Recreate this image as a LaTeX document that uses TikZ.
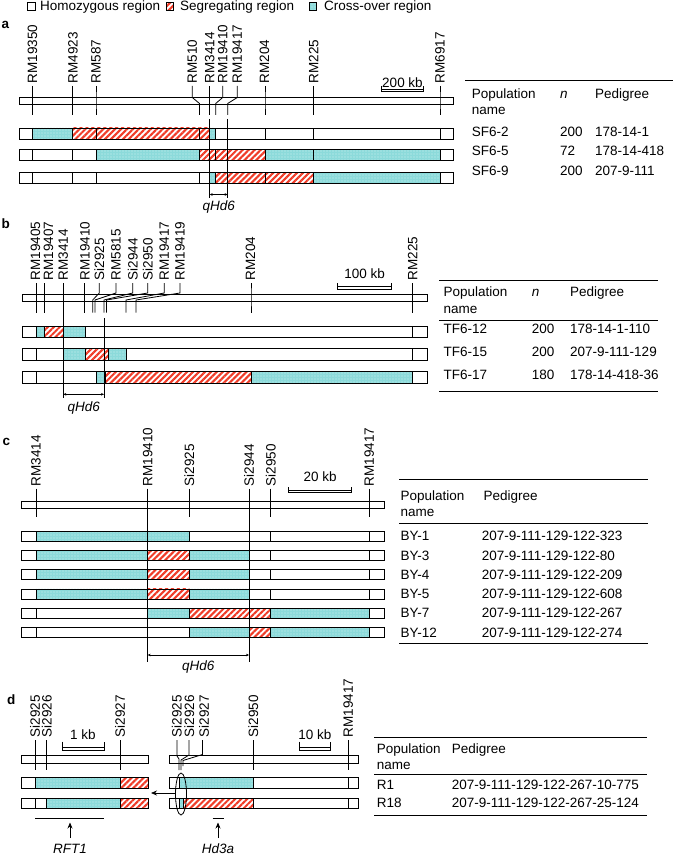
\documentclass[tikz,border=0pt]{standalone}
\usepackage{fontspec}
\setmainfont{Liberation Sans}
\usetikzlibrary{patterns.meta,arrows.meta}
\definecolor{cyanc}{RGB}{140,218,218}
\definecolor{redc}{RGB}{240,60,40}
\tikzset{
 segline/.style={draw=black,line width=0.8pt},
 cyfill/.style={preaction={fill=cyanc},pattern={Dots[distance=3pt,radius=0.6pt]},pattern color=white!60!cyanc},
 rdfill/.style={preaction={fill=white},pattern={Lines[angle=45,distance=4.2pt,line width=2.1pt]},pattern color=redc},
 tk/.style={line width=0.8pt},
 mk/.style={rotate=90,anchor=west,inner sep=0pt},
 tx/.style={anchor=base west,inner sep=0pt},
 ctx/.style={anchor=base,inner sep=0pt},
 rulel/.style={line width=0.9pt},
 qarr/.style={line width=0.4pt,{Stealth[length=3pt,width=2.6pt]}-{Stealth[length=3pt,width=2.6pt]}},
 plab/.style={anchor=base west,inner sep=0pt,font=\fontsize{13.5}{16}\selectfont\bfseries},
}
\newcommand\segW[4]{\draw[segline,fill=white] (#1,#3) rectangle (#2,#3+#4);}
\newcommand\segC[4]{\draw[segline,cyfill] (#1,#3) rectangle (#2,#3+#4);}
\newcommand\segR[4]{\draw[segline,rdfill] (#1,#3) rectangle (#2,#3+#4);}
\newcommand\rowbar[3]{\foreach \xa/\xb/\tp in {#3}{\csname seg\tp\endcsname{\xa}{\xb}{#1}{#2}}}
\newcommand\btick[6]{\draw[tk] (#1,#3) -- (#1,#4) -- (#2,#5) -- (#2,#6);}
\newcommand\sbar[4]{\draw[tk] (#1,#3) -- (#1,#4) -- (#2,#4) -- (#2,#3); \draw[tk] (#1,#4-2.5) -- (#2,#4-2.5);}
\begin{document}
\begin{tikzpicture}[x=1pt,y=-1pt,font=\fontsize{13.5}{16}\selectfont]
\useasboundingbox (0,0) rectangle (675,856);
% legend
\draw[segline,fill=white] (27.5,2.5) rectangle (35,10.5);
\node[tx] (lg1) at (40,10.8) {Homozygous region};
\draw[segline,rdfill] (166,2.5) rectangle (173.5,10.5);
\node[tx] (lg2) at (180,10.8) {Segregating region};
\draw[segline,cyfill] (309,2.5) rectangle (316.5,10.5);
\node[tx] (lg3) at (324,10.8) {Cross-over region};

% ================= panel a
\node[plab] (la) at (1.5,28.5) {a};
\draw[segline,fill=white] (19,97) rectangle (453,104.5);
\node[mk] (a1) at (32.5,83.5) {RM19350};
\node[mk] (a2) at (73,83.5) {RM4923};
\node[mk] (a3) at (96,83.5) {RM587};
\node[mk] (a4) at (192.3,83.5) {RM510};
\node[mk] (a5) at (209.7,83.5) {RM3414};
\node[mk] (a6) at (222.7,83.5) {RM19410};
\node[mk] (a7) at (237.3,83.5) {RM19417};
\node[mk] (a8) at (264.5,83.5) {RM204};
\node[mk] (a9) at (313.7,83.5) {RM225};
\node[mk] (a10) at (440,83.5) {RM6917};
\btick{32.7}{32.7}{86}{97.5}{103.5}{115}
\btick{72.7}{72.7}{86}{97.5}{103.5}{115}
\btick{96}{96}{86}{97.5}{103.5}{115}
\btick{192.3}{199.5}{86}{97.5}{103.5}{115}
\btick{209.7}{209.7}{86}{97.5}{103.5}{115}
\btick{222.7}{215.7}{86}{97.5}{103.5}{115}
\btick{237.3}{227.7}{86}{97.5}{103.5}{115}
\btick{265}{265}{86}{97.5}{103.5}{115}
\btick{313.7}{313.7}{86}{97.5}{103.5}{115}
\btick{440}{440}{86}{97.5}{103.5}{115}
\sbar{381.7}{423.3}{86}{91.5}
\node[ctx] (as) at (402.5,88) {200 kb};
\rowbar{128}{11}{19/32.7/W,32.7/72.7/C,72.7/96/R,96/199.5/R,199.5/209.7/R,209.7/215.7/C,215.7/265/W,265/313.7/W,313.7/440/W,440/453/W}
\rowbar{149.5}{11}{19/32.7/W,32.7/72.7/W,72.7/96/W,96/199.5/C,199.5/215.7/R,215.7/265/R,265/313.7/C,313.7/440/C,440/453/W}
\rowbar{172}{11}{19/32.7/W,32.7/72.7/W,72.7/96/W,96/199.5/W,199.5/209.7/W,209.7/215.7/C,215.7/265/R,265/313.7/R,313.7/440/C,440/453/W}
\draw[tk] (209.7,119) -- (209.7,198);
\draw[tk] (227.7,119) -- (227.7,198);
\draw[qarr] (209.7,194.5) -- (227.7,194.5);
\node[ctx] (aq) at (218.7,210.5) {\itshape qHd6};
% table a
\draw[rulel] (465,80) -- (673,80);
\node[tx] (ah1) at (471.7,98.3) {Population};
\node[tx] (ah2) at (471.7,114.3) {name};
\node[tx] (ah3) at (560,98.3) {\itshape n};
\node[tx] (ah4) at (595,98.3) {Pedigree};
\node[tx] (ar1a) at (471.7,136) {SF6-2};
\node[tx] (ar1b) at (560,136) {200};
\node[tx] (ar1c) at (595,136) {178-14-1};
\node[tx] (ar2a) at (471.7,155.5) {SF6-5};
\node[tx] (ar2b) at (560,155.5) {72};
\node[tx] (ar2c) at (595,155.5) {178-14-418};
\node[tx] (ar3a) at (471.7,175.3) {SF6-9};
\node[tx] (ar3b) at (560,175.3) {200};
\node[tx] (ar3c) at (595,175.3) {207-9-111};

% ================= panel b
\node[plab] (lb) at (1.5,228.5) {b};
\draw[segline,fill=white] (22.7,294) rectangle (427.3,301.7);
\node[mk] (b1) at (35.5,280.5) {RM19405};
\node[mk] (b2) at (48.5,280.5) {RM19407};
\node[mk] (b3) at (63.3,280.5) {RM3414};
\node[mk] (b4) at (85,280.5) {RM19410};
\node[mk] (b5) at (99.3,280.5) {Si2925};
\node[mk] (b6) at (116,280.5) {RM5815};
\node[mk] (b7) at (132.7,280.5) {Si2944};
\node[mk] (b8) at (147.7,280.5) {Si2950};
\node[mk] (b9) at (164.3,280.5) {RM19417};
\node[mk] (b10) at (180,280.5) {RM19419};
\node[mk] (b11) at (250.5,280.5) {RM204};
\node[mk] (b12) at (412.7,280.5) {RM225};
\btick{36.7}{36.7}{283}{293}{300}{312.7}
\btick{44.5}{44.5}{283}{293}{300}{312.7}
\btick{84.7}{84.7}{283}{293}{300}{312.7}
\btick{99.3}{92.7}{283}{293}{300}{312.7}
\btick{116}{95}{283}{293}{300}{312.7}
\btick{132.7}{104}{283}{293}{300}{312.7}
\btick{147.7}{106.5}{283}{293}{300}{312.7}
\btick{164.3}{126}{283}{293}{300}{312.7}
\btick{180}{136}{283}{293}{300}{312.7}
\btick{251}{251}{283}{293}{300}{312.7}
\btick{412.7}{412.7}{283}{293}{300}{312.7}
\draw[tk] (63.3,283) -- (63.3,312.7);
\sbar{337.7}{391.7}{283.3}{289}
\node[ctx] (bs) at (364.7,278.3) {100 kb};
\rowbar{326}{11.3}{22.7/36.7/W,36.7/44.5/C,44.5/63.3/R,63.3/85/C,85/412.7/W,412.7/427.3/W}
\rowbar{348.8}{11.3}{22.7/36.7/W,36.7/63.3/W,63.3/85/C,85/108/R,108/126.5/C,126.5/412.7/W,412.7/427.3/W}
\rowbar{371.6}{11.3}{22.7/36.7/W,36.7/96.7/W,96.7/105.3/C,105.3/251.7/R,251.7/412.7/C,412.7/427.3/W}
\draw[tk] (63.3,310) -- (63.3,398);
\draw[tk] (104,318) -- (104,398);
\draw[qarr] (63.3,394.3) -- (104,394.3);
\node[ctx] (bq) at (83.7,411.5) {\itshape qHd6};
% table b
\draw[rulel] (439.3,280.7) -- (658.3,280.7);
\draw[rulel] (439.3,320) -- (658.3,320);
\draw[rulel] (439.3,391.7) -- (658.3,391.7);
\node[tx] (bh1) at (443.3,296.7) {Population};
\node[tx] (bh2) at (443.3,313.3) {name};
\node[tx] (bh3) at (531.7,296.7) {\itshape n};
\node[tx] (bh4) at (570,296.7) {Pedigree};
\node[tx] (br1a) at (443.3,333.6) {TF6-12};
\node[tx] (br1b) at (531.7,333.6) {200};
\node[tx] (br1c) at (570,333.6) {178-14-1-110};
\node[tx] (br2a) at (443.3,356.3) {TF6-15};
\node[tx] (br2b) at (531.7,356.3) {200};
\node[tx] (br2c) at (570,356.3) {207-9-111-129};
\node[tx] (br3a) at (443.3,379) {TF6-17};
\node[tx] (br3b) at (531.7,379) {180};
\node[tx] (br3c) at (570,379) {178-14-418-36};

% ================= panel c
\node[plab] (lc) at (2.5,445) {c};
\draw[segline,fill=white] (21.7,501) rectangle (384.3,508.3);
\node[mk] (c1) at (36,486.5) {RM3414};
\node[mk] (c2) at (147.7,486.5) {RM19410};
\node[mk] (c3) at (189.3,486.5) {Si2925};
\node[mk] (c4) at (249,486.5) {Si2944};
\node[mk] (c5) at (270.7,486.5) {Si2950};
\node[mk] (c6) at (369.3,486.5) {RM19417};
\foreach \xx in {36,147.7,189.3,249,270.7,369.3}{\draw[tk] (\xx,488.5) -- (\xx,517.3);}
\sbar{288.7}{351.7}{487.3}{492.7}
\node[ctx] (cs) at (320.2,481.7) {20 kb};
\rowbar{531}{10}{21.7/36/W,36/189.3/C,189.3/249/W,249/270.7/W,270.7/369.3/W,369.3/384.3/W}
\rowbar{550.3}{10}{21.7/36/W,36/147.7/C,147.7/189.3/R,189.3/249/C,249/270.7/W,270.7/369.3/W,369.3/384.3/W}
\rowbar{569.6}{10}{21.7/36/W,36/147.7/C,147.7/189.3/R,189.3/249/C,249/270.7/W,270.7/369.3/W,369.3/384.3/W}
\rowbar{588.9}{10}{21.7/36/W,36/147.7/C,147.7/189.3/R,189.3/249/C,249/270.7/W,270.7/369.3/W,369.3/384.3/W}
\rowbar{608.2}{10}{21.7/36/W,36/147.7/W,147.7/189.3/C,189.3/249/R,249/270.7/R,270.7/369.3/C,369.3/384.3/W}
\rowbar{627.5}{10}{21.7/36/W,36/147.7/W,147.7/189.3/W,189.3/249/C,249/270.7/R,270.7/369.3/C,369.3/384.3/W}
\draw[tk] (147.7,510) -- (147.7,661.7);
\draw[tk] (249,510) -- (249,661.7);
\draw[qarr] (147.7,655) -- (249,655);
\node[ctx] (cq) at (198.3,670.5) {\itshape qHd6};
% table c
\draw[rulel] (399,479.3) -- (648.3,479.3);
\draw[rulel] (399,523.3) -- (648.3,523.3);
\draw[rulel] (399,643.3) -- (648.3,643.3);
\node[tx] (ch1) at (400.5,500) {Population};
\node[tx] (ch2) at (400.5,516) {name};
\node[tx] (ch4) at (483.3,500) {Pedigree};
\node[tx] (cr1a) at (400.5,540.7) {BY-1};
\node[tx] (cr1b) at (481.7,540.7) {207-9-111-129-122-323};
\node[tx] (cr2a) at (400.5,560) {BY-3};
\node[tx] (cr2b) at (481.7,560) {207-9-111-129-122-80};
\node[tx] (cr3a) at (400.5,579.3) {BY-4};
\node[tx] (cr3b) at (481.7,579.3) {207-9-111-129-122-209};
\node[tx] (cr4a) at (400.5,598.6) {BY-5};
\node[tx] (cr4b) at (481.7,598.6) {207-9-111-129-122-608};
\node[tx] (cr5a) at (400.5,617.9) {BY-7};
\node[tx] (cr5b) at (481.7,617.9) {207-9-111-129-122-267};
\node[tx] (cr6a) at (400.5,637.2) {BY-12};
\node[tx] (cr6b) at (481.7,637.2) {207-9-111-129-122-274};

% ================= panel d
\node[plab] (ld) at (7,704) {d};
% left
\draw[segline,fill=white] (21.7,755) rectangle (148.3,763.3);
\node[mk] (d1) at (35,737.5) {Si2925};
\node[mk] (d2) at (46.7,737.5) {Si2926};
\node[mk] (d3) at (120,737.5) {Si2927};
\foreach \xx in {35,46.7,120}{\draw[tk] (\xx,740) -- (\xx,770);}
\sbar{62.3}{104.3}{741.7}{750}
\node[ctx] (ds1) at (83,739) {1 kb};
\rowbar{777.5}{10.5}{21.7/35/W,35/120/C,120/148.3/R}
\rowbar{798}{10.5}{21.7/35/W,35/46.7/W,46.7/120/C,120/148.3/R}
% right
\draw[segline,fill=white] (169.3,755) rectangle (358.3,763.3);
\node[mk] (d4) at (176.7,737.5) {Si2925};
\node[mk] (d5) at (189.3,737.5) {Si2926};
\node[mk] (d6) at (204,737.5) {Si2927};
\node[mk] (d7) at (253.3,737.5) {Si2950};
\node[mk] (d8) at (348.3,737.5) {RM19417};
\btick{177}{179}{740}{756}{759}{770}
\btick{189}{181}{740}{755}{760}{770}
\btick{202.5}{183}{740}{754.5}{760.5}{766}
\draw[tk] (253.3,740) -- (253.3,770);
\draw[tk] (348.3,740) -- (348.3,770);
\sbar{299.3}{330.7}{741.7}{750}
\node[ctx] (ds2) at (315,739) {10 kb};
\rowbar{777.5}{10.5}{169.3/179/W,179/253.3/C,253.3/348.3/W,348.3/358.3/W}
\rowbar{798}{10.5}{169.3/179/W,179/183/C,183/253.3/R,253.3/348.3/W,348.3/358.3/W}
\draw[tk] (181,794) ellipse [x radius=5.5, y radius=21];
\coordinate (ell) at (175.5,793);
\coordinate (arrend) at (151,793);
\draw[tk,-{Stealth[length=6pt,width=5pt]}] (ell) -- (arrend);
% genes
\draw[tk] (35,818.5) -- (104,818.5);
\coordinate (g1a) at (70,838);
\coordinate (g1b) at (70,822.5);
\draw[tk,-{Stealth[length=6pt,width=5pt]}] (g1a) -- (g1b);
\node[ctx] (gn1) at (70,853) {\itshape RFT1};
\draw[tk] (212.5,818.5) -- (224,818.5);
\coordinate (g2a) at (218,838);
\coordinate (g2b) at (218,822.5);
\draw[tk,-{Stealth[length=6pt,width=5pt]}] (g2a) -- (g2b);
\node[ctx] (gn2) at (218,853) {\itshape Hd3a};
% table d
\draw[rulel] (374.3,737.3) -- (646.7,737.3);
\draw[rulel] (374.3,774.5) -- (646.7,774.5);
\draw[rulel] (374.3,815) -- (646.7,815);
\node[tx] (dh1) at (376.7,753) {Population};
\node[tx] (dh2) at (376.7,769) {name};
\node[tx] (dh4) at (451.7,753) {Pedigree};
\node[tx] (dr1a) at (376.7,789) {R1};
\node[tx] (dr1b) at (451.7,789) {207-9-111-129-122-267-10-775};
\node[tx] (dr2a) at (376.7,807) {R18};
\node[tx] (dr2b) at (451.7,807) {207-9-111-129-122-267-25-124};
\end{tikzpicture}
\end{document}
